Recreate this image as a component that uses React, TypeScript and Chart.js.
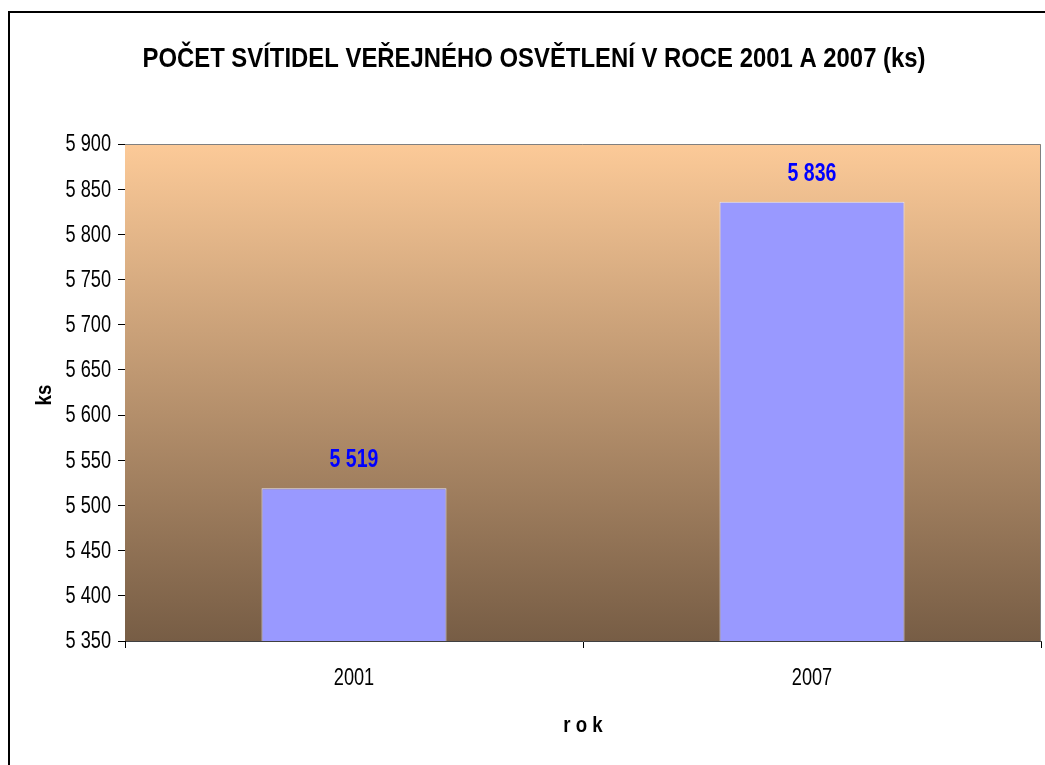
import React, { useEffect, useRef } from 'react';
import { Chart, registerables } from 'chart.js';

Chart.register(...registerables);

const categories = ['2001', '2007'];
const values = [5519, 5836];
const yMin = 5350;
const yMax = 5900;
const yStep = 50;
const titleText = 'POČET SVÍTIDEL VEŘEJNÉHO OSVĚTLENÍ V ROCE 2001 A 2007 (ks)';
const xTitle = 'r o k';
const yTitle = 'ks';

const FONT = "'Liberation Sans Narrow', 'Arial Narrow', 'Liberation Sans', Arial, sans-serif";
const NARROW = 0.79;

const fmt = (v: number) => {
  const s = Math.round(v).toString();
  return s.replace(/\B(?=(\d{3})+(?!\d))/g, ' ');
};

const drawNarrow = (ctx: any, text: string, x: number, y: number, sx: number) => {
  ctx.save();
  ctx.translate(x, y);
  ctx.scale(sx, 1);
  ctx.fillText(text, 0, 0);
  ctx.restore();
};

const decorPlugin = {
  id: 'decor',
  beforeDatasetsDraw(chart: any) {
    const { ctx, chartArea } = chart;
    const { left, top, right, bottom } = chartArea;
    const g = ctx.createLinearGradient(0, top, 0, bottom);
    g.addColorStop(0, '#FCCA98');
    g.addColorStop(1, '#775D45');
    ctx.save();
    ctx.fillStyle = g;
    ctx.fillRect(left, top, right - left, bottom - top);
    ctx.strokeStyle = '#808080';
    ctx.lineWidth = 1;
    ctx.beginPath();
    ctx.moveTo(left, top + 0.5);
    ctx.lineTo(right - 0.5, top + 0.5);
    ctx.lineTo(right - 0.5, bottom);
    ctx.stroke();
    ctx.restore();
  },
  afterDatasetsDraw(chart: any) {
    const { ctx } = chart;
    const meta = chart.getDatasetMeta(0);
    ctx.save();
    ctx.fillStyle = '#0000FF';
    ctx.font = `bold 25px ${FONT}`;
    ctx.textAlign = 'center';
    ctx.textBaseline = 'middle';
    meta.data.forEach((el: any, i: number) => {
      drawNarrow(ctx, fmt(values[i]), el.x, el.y - 28, 0.78);
    });
    ctx.restore();
  },
  afterDraw(chart: any) {
    const { ctx, chartArea, scales } = chart;
    ctx.save();
    ctx.fillStyle = '#000000';
    ctx.textBaseline = 'middle';

    // tick labels (narrow rendering of the scales' own ticks)
    ctx.font = `23px ${FONT}`;
    ctx.textAlign = 'right';
    scales.y.ticks.forEach((t: any) => {
      drawNarrow(ctx, fmt(t.value), 111, scales.y.getPixelForValue(t.value) + 1, NARROW);
    });
    ctx.textAlign = 'center';
    categories.forEach((c, i) => {
      drawNarrow(ctx, c, scales.x.getPixelForValue(i), 679, NARROW);
    });

    // title
    ctx.font = `bold 28px ${FONT}`;
    drawNarrow(ctx, titleText, 534, 59, 0.853);

    // axis titles
    ctx.font = `bold 22px ${FONT}`;
    drawNarrow(ctx, xTitle, (chartArea.left + chartArea.right) / 2, 726, 0.85);
    ctx.translate(45, 395);
    ctx.rotate(-Math.PI / 2);
    drawNarrow(ctx, yTitle, 0, 0, 0.85);
    ctx.restore();
  },
};

export default function App() {
  const ref = useRef<HTMLCanvasElement | null>(null);
  useEffect(() => {
    if (!ref.current) return;
    const chart = new Chart(ref.current, {
      type: 'bar',
      data: {
        labels: categories,
        datasets: [
          {
            data: values,
            backgroundColor: '#9999FF',
            borderColor: '#E4E4F4',
            borderWidth: 1,
            barPercentage: 0.404,
            categoryPercentage: 1,
          },
        ],
      },
      options: {
        responsive: false,
        animation: false,
        layout: { padding: { top: 144, right: 4, left: 0, bottom: 0 } },
        plugins: {
          legend: { display: false },
          title: { display: false },
          tooltip: { enabled: false },
        },
        scales: {
          x: {
            afterFit(scale: any) {
              scale.height = 124;
            },
            grid: {
              drawOnChartArea: false,
              drawTicks: true,
              tickLength: 7,
              color: '#000000',
              offset: true,
            },
            border: { display: true, color: '#404040', width: 1 },
            ticks: {
              color: 'rgba(0,0,0,0)',
              font: { family: FONT, size: 19 },
              padding: 20,
            },
            title: { display: false, text: xTitle },
          },
          y: {
            min: yMin,
            max: yMax,
            afterFit(scale: any) {
              scale.width = 125;
            },
            grid: {
              drawOnChartArea: false,
              drawTicks: true,
              tickLength: 7,
              color: '#000000',
            },
            border: { display: true, color: '#000000', width: 1 },
            ticks: {
              stepSize: yStep,
              color: 'rgba(0,0,0,0)',
              font: { family: FONT, size: 19 },
              padding: 8,
              callback: (v: any) => fmt(Number(v)),
            },
            title: { display: false, text: yTitle },
          },
        },
      },
      plugins: [decorPlugin],
    });
    return () => chart.destroy();
  }, []);

  return (
    <div
      style={{
        position: 'absolute',
        left: 0,
        top: 0,
        width: 1045,
        height: 765,
        overflow: 'hidden',
        background: '#FFFFFF',
      }}
    >
      <div
        style={{
          position: 'absolute',
          left: 8,
          top: 11,
          width: 1100,
          height: 900,
          border: '2px solid #000000',
          boxSizing: 'border-box',
        }}
      />
      <canvas
        ref={ref}
        width={1045}
        height={765}
        style={{ position: 'absolute', left: 0, top: 0 }}
      />
    </div>
  );
}
